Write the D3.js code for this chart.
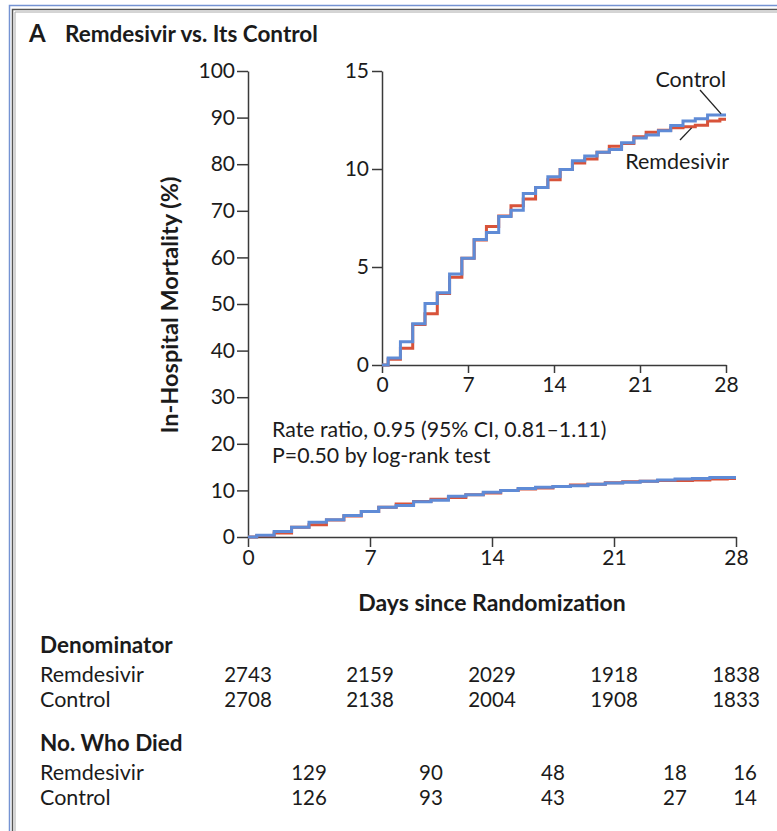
<!DOCTYPE html>
<html>
<head>
<meta charset="utf-8">
<script src="https://cdn.jsdelivr.net/npm/d3@7/dist/d3.min.js"></script>
<style>
  html, body { margin: 0; padding: 0; background: #fff; }
  svg { display: block; }
  text { font-family: Lato, "Open Sans", sans-serif; fill: #1b1b1b; }
</style>
</head>
<body>
<svg id="chart" width="777" height="831"></svg>
<script>
// ---------------- DATA ----------------
const stepDays = [0, 0.5, 1.5, 2.5, 3.5, 4.5, 5.5, 6.5, 7.5, 8.5, 9.5, 10.5, 11.5, 12.5, 13.5,
  14.5, 15.5, 16.5, 17.5, 18.5, 19.5, 20.5, 21.5, 22.5, 23.5, 24.5, 25.5, 26.5, 27.5, 28];
const remdesivirMortality = [0, 0.29, 0.85, 2.07, 2.62, 3.65, 4.48, 5.45, 6.38, 7.06, 7.6, 8.12, 8.47, 9.06, 9.45,
  9.98, 10.31, 10.51, 10.86, 11.16, 11.3, 11.64, 11.87, 11.98, 12.1, 12.15, 12.23, 12.45, 12.54, 12.54];
const controlMortality = [0, 0.36, 1.19, 2.1, 3.14, 3.69, 4.64, 5.45, 6.4, 6.76, 7.58, 7.9, 8.75, 9.06, 9.6,
  9.98, 10.42, 10.66, 10.86, 11.0, 11.34, 11.58, 11.74, 11.95, 12.22, 12.45, 12.56, 12.76, 12.76, 12.76];

const xTicks = [0, 7, 14, 21, 28];
const mainYTicks = [0, 10, 20, 30, 40, 50, 60, 70, 80, 90, 100];
const insetYTicks = [0, 5, 10, 15];

const groups = ["Remdesivir", "Control"];
const denominatorDays = [0, 7, 14, 21, 28];
const denominatorRemdesivir = [2743, 2159, 2029, 1918, 1838];
const denominatorControl = [2708, 2138, 2004, 1908, 1833];
const diedRemdesivir = [129, 90, 48, 18, 16];
const diedControl = [126, 93, 43, 27, 14];

const titleLetter = "A";
const titleText = "Remdesivir vs. Its Control";
const yLabel = "In-Hospital Mortality (%)";
const xLabel = "Days since Randomization";
const annotation = ["Rate ratio, 0.95 (95% CI, 0.81\u20131.11)", "P=0.50 by log-rank test"];

// ---------------- STYLE ----------------
const RED = "#d8533a", BLUE = "#5f8bd6", AXIS = "#3a3a3a";
const FS = 21;      // regular text
const FB = 22.5;    // bold headings

const svg = d3.select("#chart");
svg.append("rect").attr("width", 777).attr("height", 831).attr("fill", "#fff");

// frame (top / left only, as cropped)
svg.append("path").attr("d", "M9.5,831 V5.5 H777").attr("fill", "none").attr("stroke", "#7593d3").attr("stroke-width", 1.5);
svg.append("path").attr("d", "M12.5,831 V9.5 H777").attr("fill", "none").attr("stroke", "#555").attr("stroke-width", 1.5);
svg.append("path").attr("d", "M15,831 V12 H777").attr("fill", "none").attr("stroke", "#aaa").attr("stroke-width", 1);

// title
svg.append("text").attr("x", 29).attr("y", 42).attr("font-size", 24).attr("font-weight", 700).text(titleLetter);
svg.append("text").attr("x", 65).attr("y", 42).attr("font-size", FB).attr("font-weight", 700).text(titleText);

const seriesData = [
  { name: "Remdesivir", color: RED, values: remdesivirMortality },
  { name: "Control", color: BLUE, values: controlMortality }
];

// ---------------- MAIN CHART ----------------
const mx = d3.scaleLinear().domain([0, 28]).range([248, 736]);
const my = d3.scaleLinear().domain([0, 100]).range([537, 71]);

function styleAxis(g, fs) {
  g.selectAll(".domain").attr("stroke", AXIS).attr("stroke-width", 1.5);
  g.selectAll(".tick line").attr("stroke", AXIS).attr("stroke-width", 1.5);
  g.selectAll(".tick text").attr("font-size", fs).attr("font-family", "Lato, sans-serif").attr("fill", "#1b1b1b");
}

const mYAxis = svg.append("g").attr("transform", "translate(248,0)")
  .call(d3.axisLeft(my).tickValues(mainYTicks).tickSize(11).tickPadding(2).tickSizeOuter(0));
styleAxis(mYAxis, FS);
const mXAxis = svg.append("g").attr("transform", "translate(0,537)")
  .call(d3.axisBottom(mx).tickValues(xTicks).tickSize(10).tickPadding(3).tickSizeOuter(0));
styleAxis(mXAxis, FS);

const mLine = d3.line().curve(d3.curveStepAfter).x((d, i) => mx(stepDays[i])).y(d => my(d));
svg.append("g").selectAll("path").data(seriesData).join("path")
  .attr("d", s => mLine(s.values)).attr("fill", "none")
  .attr("stroke", s => s.color).attr("stroke-width", 3);

svg.append("text").attr("transform", "translate(178,305) rotate(-90)")
  .attr("text-anchor", "middle").attr("font-size", 23.5).attr("font-weight", 700).text(yLabel);
svg.append("text").attr("x", 492).attr("y", 611).attr("text-anchor", "middle")
  .attr("font-size", 23).attr("font-weight", 700).text(xLabel);

svg.append("g").selectAll("text").data(annotation).join("text")
  .attr("x", 272).attr("y", (d, i) => 437 + i * 26).attr("font-size", FS + 0.3).text(d => d);

// ---------------- INSET ----------------
const ix = d3.scaleLinear().domain([0, 28]).range([382, 726]);
const iy = d3.scaleLinear().domain([0, 15]).range([365, 71]);

const iYAxis = svg.append("g").attr("transform", "translate(382,0)")
  .call(d3.axisLeft(iy).tickValues(insetYTicks).tickSize(10).tickPadding(3).tickSizeOuter(0));
styleAxis(iYAxis, FS);
const iXAxis = svg.append("g").attr("transform", "translate(0,365)")
  .call(d3.axisBottom(ix).tickValues(xTicks).tickSize(8).tickPadding(4).tickSizeOuter(0));
styleAxis(iXAxis, FS);

const iLine = d3.line().curve(d3.curveStepAfter).x((d, i) => ix(stepDays[i])).y(d => iy(d));
svg.append("g").selectAll("path").data(seriesData).join("path")
  .attr("d", s => iLine(s.values)).attr("fill", "none")
  .attr("stroke", s => s.color).attr("stroke-width", 3);

// series labels with leader lines
svg.append("text").attr("x", 726).attr("y", 87).attr("text-anchor", "end").attr("font-size", FS + 0.5).text("Control");
svg.append("line").attr("x1", 700).attr("y1", 90).attr("x2", ix(27.6)).attr("y2", iy(12.76) - 1)
  .attr("stroke", "#222").attr("stroke-width", 1.3);
svg.append("text").attr("x", 729).attr("y", 169).attr("text-anchor", "end").attr("font-size", FS + 0.5).text("Remdesivir");
svg.append("line").attr("x1", 680).attr("y1", 140).attr("x2", ix(25.2)).attr("y2", iy(12.15) + 1)
  .attr("stroke", "#222").attr("stroke-width", 1.3);

// ---------------- TABLES ----------------
function table(title, yTitle, rows, xs, anchors) {
  svg.append("text").attr("x", 40).attr("y", yTitle).attr("font-size", FB).attr("font-weight", 700).text(title);
  rows.forEach((r, ri) => {
    const y = yTitle + 29 + ri * 25;
    svg.append("text").attr("x", 40).attr("y", y).attr("font-size", FS + 0.5).text(r.name);
    svg.append("g").selectAll("text").data(r.values).join("text")
      .attr("x", (d, i) => xs[i]).attr("y", y).attr("text-anchor", (d, i) => anchors[i])
      .attr("font-size", FS - 0.5).text(d => d);
  });
}
const denomX = denominatorDays.map(d => mx(d));
table("Denominator", 653,
  [{ name: groups[0], values: denominatorRemdesivir }, { name: groups[1], values: denominatorControl }],
  denomX, ["middle", "middle", "middle", "middle", "middle"]);
const diedX = [mx(3.5), mx(10.5), mx(17.5), mx(24.5), mx(28) + 21];
table("No. Who Died", 751,
  [{ name: groups[0], values: diedRemdesivir }, { name: groups[1], values: diedControl }],
  diedX, ["middle", "middle", "middle", "middle", "end"]);
</script>
</body>
</html>
